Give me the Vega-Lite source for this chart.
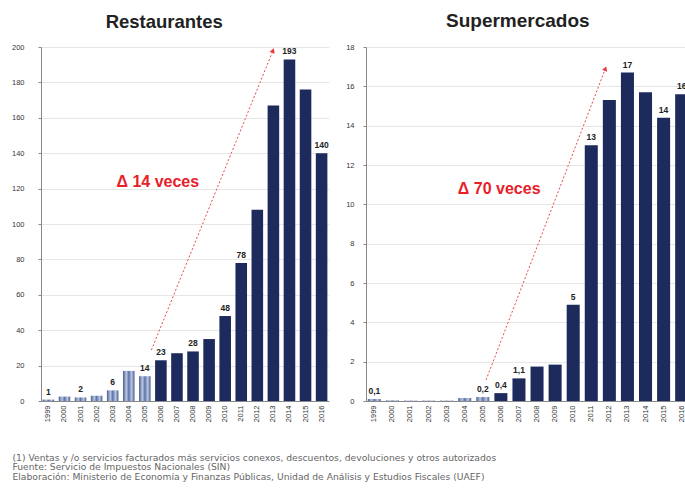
{
  "$schema": "https://vega.github.io/schema/vega-lite/v6.json",
  "background": "white",
  "padding": {"left": 11, "top": 12, "right": 0, "bottom": 4},
  "config": {
    "font": "Liberation Sans",
    "view": {"stroke": null},
    "axis": {"labelFont": "Liberation Sans", "labelColor": "#333", "domainColor": "#888", "tickColor": "#888"}
  },
  "title": {
    "text": [
      "(1) Ventas y /o servicios facturados más servicios conexos, descuentos, devoluciones y otros autorizados",
      "Fuente: Servicio de Impuestos Nacionales (SIN)",
      "Elaboración: Ministerio de Economía y Finanzas Públicas, Unidad de Análisis y Estudios Fiscales (UAEF)"
    ],
    "orient": "bottom",
    "anchor": "start",
    "font": "DejaVu Sans",
    "fontSize": 9.2,
    "fontWeight": "normal",
    "color": "#666",
    "lineHeight": 9.5,
    "offset": 32,
    "dx": 1
  },
  "datasets": {
    "rest": [
      {"year": "1999", "v": 0.8, "label": "1", "early": true},
      {"year": "2000", "v": 2.5, "label": null, "early": true},
      {"year": "2001", "v": 2, "label": "2", "early": true},
      {"year": "2002", "v": 3, "label": null, "early": true},
      {"year": "2003", "v": 6, "label": "6", "early": true},
      {"year": "2004", "v": 17, "label": null, "early": true},
      {"year": "2005", "v": 14, "label": "14", "early": true},
      {"year": "2006", "v": 23, "label": "23", "early": false},
      {"year": "2007", "v": 27, "label": null, "early": false},
      {"year": "2008", "v": 28, "label": "28", "early": false},
      {"year": "2009", "v": 35, "label": null, "early": false},
      {"year": "2010", "v": 48, "label": "48", "early": false},
      {"year": "2011", "v": 78, "label": "78", "early": false},
      {"year": "2012", "v": 108, "label": null, "early": false},
      {"year": "2013", "v": 167, "label": null, "early": false},
      {"year": "2014", "v": 193, "label": "193", "early": false},
      {"year": "2015", "v": 176, "label": null, "early": false},
      {"year": "2016", "v": 140, "label": "140", "early": false}
    ],
    "sup": [
      {"year": "1999", "v": 0.1, "label": "0,1", "early": true},
      {"year": "2000", "v": 0.03, "label": null, "early": true},
      {"year": "2001", "v": 0.02, "label": null, "early": true},
      {"year": "2002", "v": 0.02, "label": null, "early": true},
      {"year": "2003", "v": 0.02, "label": null, "early": true},
      {"year": "2004", "v": 0.15, "label": null, "early": true},
      {"year": "2005", "v": 0.2, "label": "0,2", "early": true},
      {"year": "2006", "v": 0.4, "label": "0,4", "early": false},
      {"year": "2007", "v": 1.15, "label": "1,1", "early": false},
      {"year": "2008", "v": 1.75, "label": null, "early": false},
      {"year": "2009", "v": 1.85, "label": null, "early": false},
      {"year": "2010", "v": 4.9, "label": "5", "early": false},
      {"year": "2011", "v": 13, "label": "13", "early": false},
      {"year": "2012", "v": 15.3, "label": null, "early": false},
      {"year": "2013", "v": 16.7, "label": "17", "early": false},
      {"year": "2014", "v": 15.7, "label": null, "early": false},
      {"year": "2015", "v": 14.4, "label": "14", "early": false},
      {"year": "2016", "v": 15.6, "label": "16", "early": false}
    ],
    "arrRest": [{"x": 6.9, "v": 28.8, "x2": 14.5, "v2": 198, "hx": 14.5, "hv": 198, "t": "Δ 14 veces", "tx": 7.3, "tv": 124}],
    "arrSup": [{"x": 6.67, "v": 1.07, "x2": 13.3, "v2": 16.9, "hx": 13.3, "hv": 16.9, "t": "Δ 70 veces", "tx": 7.4, "tv": 10.8}]
  },
  "spacing": 16,
  "hconcat": [
    {
      "title": {"text": "Restaurantes", "fontSize": 18.5, "fontWeight": "bold", "offset": 12, "color": "#222", "frame": "bounds", "dx": -6},
      "width": 288,
      "height": 354,
      "resolve": {"scale": {"x": "independent"}, "axis": {"y": "independent", "x": "independent"}},
      "layer": [
        {
          "data": {"name": "rest"},
          "encoding": {
            "x": {"field": "year", "type": "ordinal", "scale": {"paddingInner": 0.28, "paddingOuter": 0.1},
              "axis": {"title": null, "labelAngle": 270, "labelFontSize": 7.5, "labelAlign": "right", "labelBaseline": "middle", "ticks": false, "labelPadding": 4}},
            "y": {"field": "v", "type": "quantitative", "scale": {"domain": [0, 200]},
              "axis": {"title": null, "values": [0, 20, 40, 60, 80, 100, 120, 140, 160, 180, 200], "labelFontSize": 7.5, "gridColor": "#e6e6e6", "tickSize": 3, "labelPadding": 14, "labelOverlap": false}}
          },
          "layer": [
            {"transform": [{"filter": "datum.early"}], "mark": {"type": "bar", "color": {"gradient": "linear", "x1": 0, "x2": 1, "y1": 0, "y2": 0, "stops": [{"offset": 0, "color": "#4a5e92"}, {"offset": 0.3, "color": "#b9c6e2"}, {"offset": 0.5, "color": "#5f73a6"}, {"offset": 0.75, "color": "#b9c6e2"}, {"offset": 1, "color": "#4a5e92"}]}}},
            {"transform": [{"filter": "!datum.early"}], "mark": {"type": "bar", "color": "#1c2a5c"}},
            {"transform": [{"filter": "datum.label != null"}], "mark": {"type": "text", "dy": -8, "fontSize": 8.5, "fontWeight": "bold", "color": "#222"}, "encoding": {"text": {"field": "label"}}}
          ]
        },
        {
          "data": {"name": "arrRest"},
          "layer": [
            {"mark": {"type": "rule", "color": "#e8484d", "strokeDash": [2, 2], "strokeWidth": 1},
              "encoding": {"x": {"field": "x", "type": "quantitative", "scale": {"domain": [0, 18]}, "axis": null}, "x2": {"field": "x2"}, "y": {"field": "v", "type": "quantitative", "axis": null}, "y2": {"field": "v2"}}},
            {"mark": {"type": "point", "shape": "triangle-up", "filled": true, "color": "#e8383d", "size": 30, "angle": 22, "opacity": 1},
              "encoding": {"x": {"field": "hx", "type": "quantitative", "scale": {"domain": [0, 18]}, "axis": null}, "y": {"field": "hv", "type": "quantitative", "axis": null}}},
            {"mark": {"type": "text", "fontSize": 16, "fontWeight": "bold", "color": "#e8202a"},
              "encoding": {"x": {"field": "tx", "type": "quantitative", "scale": {"domain": [0, 18]}, "axis": null}, "y": {"field": "tv", "type": "quantitative", "axis": null}, "text": {"field": "t"}}}
          ]
        }
      ]
    },
    {
      "title": {"text": "Supermercados", "fontSize": 19, "fontWeight": "bold", "offset": 12, "color": "#222", "frame": "bounds"},
      "width": 324,
      "height": 354,
      "resolve": {"scale": {"x": "independent"}, "axis": {"y": "independent", "x": "independent"}},
      "layer": [
        {
          "data": {"name": "sup"},
          "encoding": {
            "x": {"field": "year", "type": "ordinal", "scale": {"paddingInner": 0.28, "paddingOuter": 0.1},
              "axis": {"title": null, "labelAngle": 270, "labelFontSize": 7.5, "labelAlign": "right", "labelBaseline": "middle", "ticks": false, "labelPadding": 4}},
            "y": {"field": "v", "type": "quantitative", "scale": {"domain": [0, 18]},
              "axis": {"title": null, "values": [0, 2, 4, 6, 8, 10, 12, 14, 16, 18], "labelFontSize": 7.5, "gridColor": "#e6e6e6", "tickSize": 3, "labelPadding": 9, "labelOverlap": false}}
          },
          "layer": [
            {"transform": [{"filter": "datum.early"}], "mark": {"type": "bar", "color": {"gradient": "linear", "x1": 0, "x2": 1, "y1": 0, "y2": 0, "stops": [{"offset": 0, "color": "#4a5e92"}, {"offset": 0.3, "color": "#b9c6e2"}, {"offset": 0.5, "color": "#5f73a6"}, {"offset": 0.75, "color": "#b9c6e2"}, {"offset": 1, "color": "#4a5e92"}]}}},
            {"transform": [{"filter": "!datum.early"}], "mark": {"type": "bar", "color": "#1c2a5c"}},
            {"transform": [{"filter": "datum.label != null"}], "mark": {"type": "text", "dy": -8, "fontSize": 8.5, "fontWeight": "bold", "color": "#222"}, "encoding": {"text": {"field": "label"}}}
          ]
        },
        {
          "data": {"name": "arrSup"},
          "layer": [
            {"mark": {"type": "rule", "color": "#e8484d", "strokeDash": [2, 2], "strokeWidth": 1},
              "encoding": {"x": {"field": "x", "type": "quantitative", "scale": {"domain": [0, 18]}, "axis": null}, "x2": {"field": "x2"}, "y": {"field": "v", "type": "quantitative", "axis": null}, "y2": {"field": "v2"}}},
            {"mark": {"type": "point", "shape": "triangle-up", "filled": true, "color": "#e8383d", "size": 30, "angle": 21, "opacity": 1},
              "encoding": {"x": {"field": "hx", "type": "quantitative", "scale": {"domain": [0, 18]}, "axis": null}, "y": {"field": "hv", "type": "quantitative", "axis": null}}},
            {"mark": {"type": "text", "fontSize": 16, "fontWeight": "bold", "color": "#e8202a"},
              "encoding": {"x": {"field": "tx", "type": "quantitative", "scale": {"domain": [0, 18]}, "axis": null}, "y": {"field": "tv", "type": "quantitative", "axis": null}, "text": {"field": "t"}}}
          ]
        }
      ]
    }
  ]
}
